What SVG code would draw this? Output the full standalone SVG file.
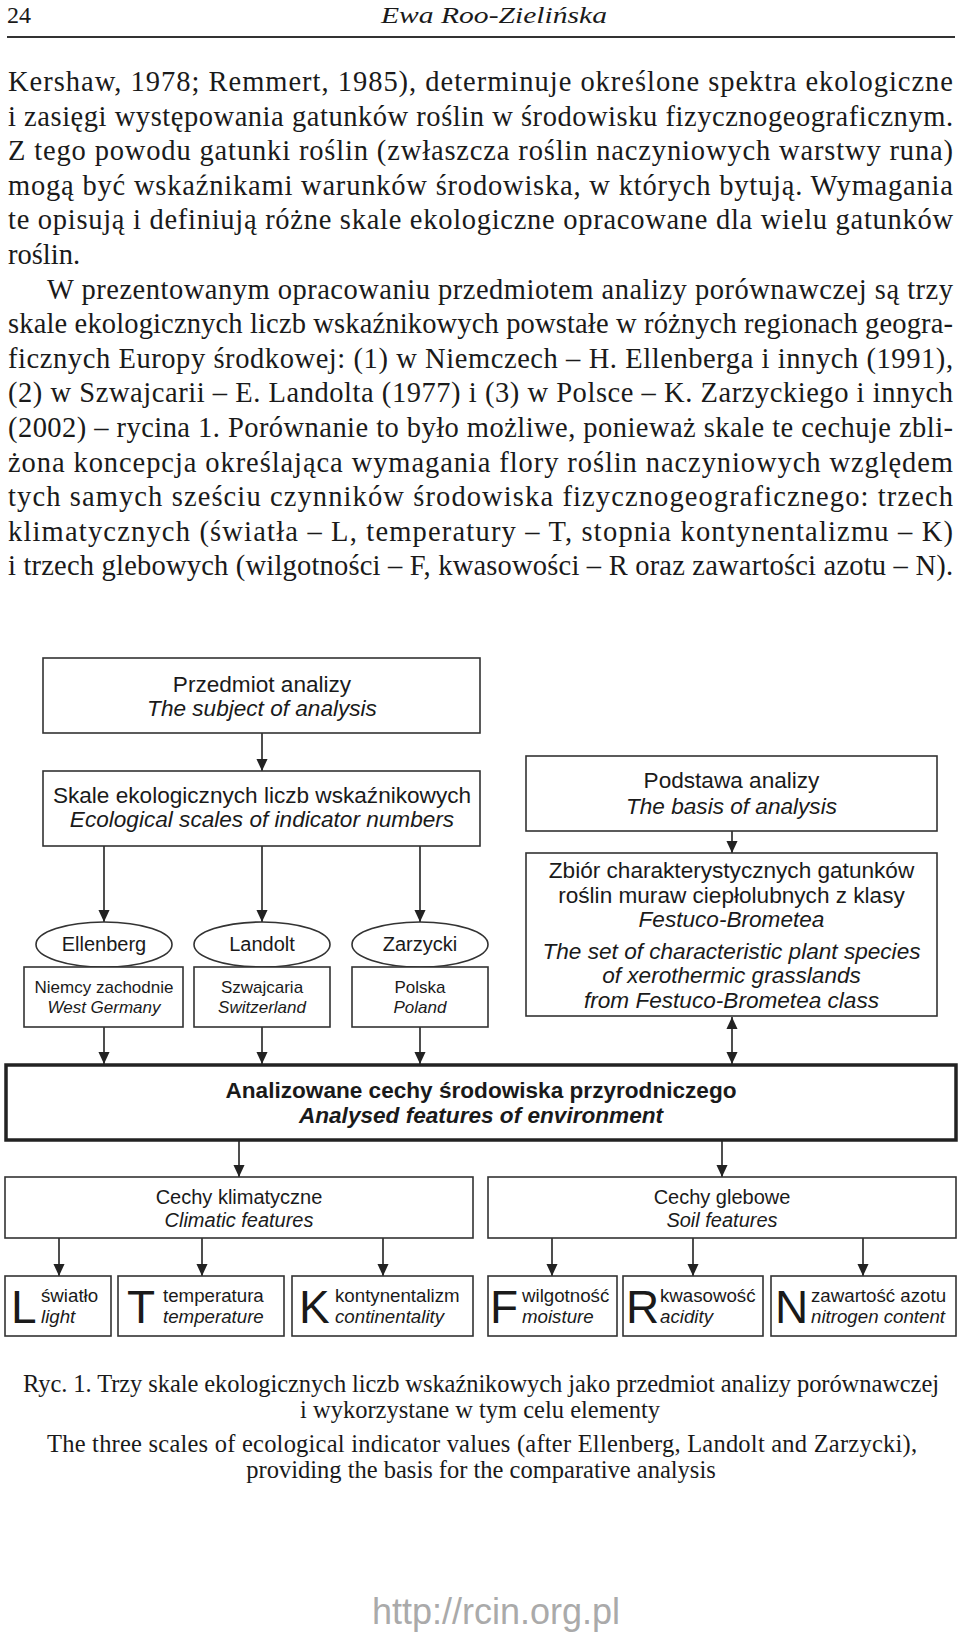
<svg xmlns="http://www.w3.org/2000/svg" width="960" height="1634" viewBox="0 0 960 1634">
<style>
.body{font-family:"Liberation Serif","Times New Roman",serif;font-size:28.5px;fill:#1a1a1a}
.cap{font-family:"Liberation Serif","Times New Roman",serif;font-size:24.5px;fill:#1a1a1a}
.hd{font-family:"Liberation Serif","Times New Roman",serif;font-size:24px;fill:#1a1a1a}
.s22{font-family:"Liberation Sans",Arial,sans-serif;font-size:22.6px;fill:#1a1a1a;text-anchor:middle}
.s20{font-family:"Liberation Sans",Arial,sans-serif;font-size:20px;fill:#1a1a1a;text-anchor:middle}
.s17{font-family:"Liberation Sans",Arial,sans-serif;font-size:17px;fill:#1a1a1a;text-anchor:middle}
.s18{font-family:"Liberation Sans",Arial,sans-serif;font-size:18.7px;fill:#1a1a1a}
.big{font-family:"Liberation Sans",Arial,sans-serif;font-size:46px;fill:#1a1a1a}
.it{font-style:italic}
.b{font-weight:bold}
.box{fill:#fff;stroke:#333;stroke-width:1.6}
.thick{fill:#fff;stroke:#222;stroke-width:3.5}
.con{stroke:#222;stroke-width:1.6;fill:none;marker-end:url(#ah)}
.wm{font-family:"Liberation Sans",Arial,sans-serif;font-size:36px;fill:#aaaaaa;text-anchor:middle}
</style>
<defs>
<marker id="ah" markerUnits="userSpaceOnUse" markerWidth="12" markerHeight="13" refX="13" refY="6" orient="auto-start-reverse" viewBox="0 0 13 12">
<path d="M0,0 L13,6 L0,12 Z" fill="#222"/>
</marker>
</defs>
<rect width="960" height="1634" fill="#fff"/>

<g id="header">
<text class="hd" x="7" y="23">24</text>
<text class="hd it" x="494" y="23" text-anchor="middle" textLength="226" lengthAdjust="spacingAndGlyphs">Ewa Roo-Zielińska</text>
<line x1="7" y1="37" x2="955" y2="37" stroke="#333" stroke-width="2"/>
</g>

<g id="body">
<text class="body" x="8" y="91" textLength="945" lengthAdjust="spacing">Kershaw, 1978; Remmert, 1985), determinuje określone spektra ekologiczne</text>
<text class="body" x="8" y="125.6" textLength="945" lengthAdjust="spacing">i zasięgi występowania gatunków roślin w środowisku fizycznogeograficznym.</text>
<text class="body" x="8" y="160.2" textLength="945" lengthAdjust="spacing">Z tego powodu gatunki roślin (zwłaszcza roślin naczyniowych warstwy runa)</text>
<text class="body" x="8" y="194.8" textLength="945" lengthAdjust="spacing">mogą być wskaźnikami warunków środowiska, w których bytują. Wymagania</text>
<text class="body" x="8" y="229.4" textLength="945" lengthAdjust="spacing">te opisują i definiują różne skale ekologiczne opracowane dla wielu gatunków</text>
<text class="body" x="8" y="264">roślin.</text>
<text class="body" x="47" y="298.6" textLength="906" lengthAdjust="spacing">W prezentowanym opracowaniu przedmiotem analizy porównawczej są trzy</text>
<text class="body" x="8" y="333.2" textLength="945" lengthAdjust="spacing">skale ekologicznych liczb wskaźnikowych powstałe w różnych regionach geogra-</text>
<text class="body" x="8" y="367.8" textLength="945" lengthAdjust="spacing">ficznych Europy środkowej: (1) w Niemczech – H. Ellenberga i innych (1991),</text>
<text class="body" x="8" y="402.4" textLength="945" lengthAdjust="spacing">(2) w Szwajcarii – E. Landolta (1977) i (3) w Polsce – K. Zarzyckiego i innych</text>
<text class="body" x="8" y="437" textLength="945" lengthAdjust="spacing">(2002) – rycina 1. Porównanie to było możliwe, ponieważ skale te cechuje zbli-</text>
<text class="body" x="8" y="471.6" textLength="945" lengthAdjust="spacing">żona koncepcja określająca wymagania flory roślin naczyniowych względem</text>
<text class="body" x="8" y="506.2" textLength="945" lengthAdjust="spacing">tych samych sześciu czynników środowiska fizycznogeograficznego: trzech</text>
<text class="body" x="8" y="540.8" textLength="945" lengthAdjust="spacing">klimatycznych (światła – L, temperatury – T, stopnia kontynentalizmu – K)</text>
<text class="body" x="8" y="575.4" textLength="945" lengthAdjust="spacing">i trzech glebowych (wilgotności – F, kwasowości – R oraz zawartości azotu – N).</text>
</g>

<g id="connectors">
<line class="con" x1="262" y1="733" x2="262" y2="771"/>
<line class="con" x1="104" y1="846" x2="104" y2="922"/>
<line class="con" x1="262" y1="846" x2="262" y2="922"/>
<line class="con" x1="420" y1="846" x2="420" y2="922"/>
<line class="con" x1="104" y1="1027" x2="104" y2="1064"/>
<line class="con" x1="262" y1="1027" x2="262" y2="1064"/>
<line class="con" x1="420" y1="1027" x2="420" y2="1064"/>
<line class="con" x1="732" y1="831" x2="732" y2="853"/>
<line class="con" x1="732" y1="1017" x2="732" y2="1064" style="marker-start:url(#ah)"/>
<line class="con" x1="239" y1="1141" x2="239" y2="1177"/>
<line class="con" x1="722" y1="1141" x2="722" y2="1177"/>
<line class="con" x1="59" y1="1238" x2="59" y2="1276"/>
<line class="con" x1="202" y1="1238" x2="202" y2="1276"/>
<line class="con" x1="383" y1="1238" x2="383" y2="1276"/>
<line class="con" x1="552" y1="1238" x2="552" y2="1276"/>
<line class="con" x1="693" y1="1238" x2="693" y2="1276"/>
<line class="con" x1="863" y1="1238" x2="863" y2="1276"/>
</g>

<g id="subject">
<rect class="box" x="43" y="658" width="437" height="75"/>
<text class="s22" x="262" y="692">Przedmiot analizy</text>
<text class="s22 it" x="262" y="716">The subject of analysis</text>
</g>

<g id="scales">
<rect class="box" x="43" y="771" width="437" height="75"/>
<text class="s22" x="262" y="803">Skale ekologicznych liczb wskaźnikowych</text>
<text class="s22 it" x="262" y="827">Ecological scales of indicator numbers</text>
</g>

<g id="ellenberg">
<ellipse class="box" cx="104" cy="944.5" rx="68" ry="22.5"/>
<text class="s20" x="104" y="951">Ellenberg</text>
<rect class="box" x="24" y="967" width="159" height="60"/>
<text class="s17" x="104" y="993">Niemcy zachodnie</text>
<text class="s17 it" x="104" y="1013">West Germany</text>
</g>

<g id="landolt">
<ellipse class="box" cx="262" cy="944.5" rx="68" ry="22.5"/>
<text class="s20" x="262" y="951">Landolt</text>
<rect class="box" x="194" y="967" width="136" height="60"/>
<text class="s17" x="262" y="993">Szwajcaria</text>
<text class="s17 it" x="262" y="1013">Switzerland</text>
</g>

<g id="zarzycki">
<ellipse class="box" cx="420" cy="944.5" rx="68" ry="22.5"/>
<text class="s20" x="420" y="951">Zarzycki</text>
<rect class="box" x="352" y="967" width="136" height="60"/>
<text class="s17" x="420" y="993">Polska</text>
<text class="s17 it" x="420" y="1013">Poland</text>
</g>

<g id="basis">
<rect class="box" x="526" y="756" width="411" height="75"/>
<text class="s22" x="731.5" y="788">Podstawa analizy</text>
<text class="s22 it" x="731.5" y="814">The basis of analysis</text>
</g>

<g id="set">
<rect class="box" x="526" y="853" width="411" height="163"/>
<text class="s22" x="731.5" y="878">Zbiór charakterystycznych gatunków</text>
<text class="s22" x="731.5" y="903">roślin muraw ciepłolubnych z klasy</text>
<text class="s22 it" x="731.5" y="927">Festuco-Brometea</text>
<text class="s22 it" x="731.5" y="959">The set of characteristic plant species</text>
<text class="s22 it" x="731.5" y="983">of xerothermic grasslands</text>
<text class="s22 it" x="731.5" y="1008">from Festuco-Brometea class</text>
</g>

<g id="analysed">
<rect class="thick" x="6" y="1065" width="950" height="75"/>
<text class="s22 b" x="481" y="1098">Analizowane cechy środowiska przyrodniczego</text>
<text class="s22 b it" x="481" y="1123">Analysed features of environment</text>
</g>

<g id="climatic">
<rect class="box" x="5" y="1177" width="468" height="61"/>
<text class="s20" x="239" y="1204">Cechy klimatyczne</text>
<text class="s20 it" x="239" y="1227">Climatic features</text>
</g>

<g id="soil">
<rect class="box" x="488" y="1177" width="468" height="61"/>
<text class="s20" x="722" y="1204">Cechy glebowe</text>
<text class="s20 it" x="722" y="1227">Soil features</text>
</g>

<g id="L">
<rect class="box" x="5" y="1276" width="106" height="60"/>
<text class="big" x="11" y="1323">L</text>
<text class="s18" x="41" y="1302">światło</text>
<text class="s18 it" x="41" y="1323">light</text>
</g>
<g id="T">
<rect class="box" x="118" y="1276" width="166" height="60"/>
<text class="big" x="127" y="1323">T</text>
<text class="s18" x="163" y="1302">temperatura</text>
<text class="s18 it" x="163" y="1323">temperature</text>
</g>
<g id="K">
<rect class="box" x="292" y="1276" width="181" height="60"/>
<text class="big" x="299" y="1323">K</text>
<text class="s18" x="335" y="1302">kontynentalizm</text>
<text class="s18 it" x="335" y="1323">continentality</text>
</g>
<g id="F">
<rect class="box" x="488" y="1276" width="129" height="60"/>
<text class="big" x="490" y="1323">F</text>
<text class="s18" x="522" y="1302">wilgotność</text>
<text class="s18 it" x="522" y="1323">moisture</text>
</g>
<g id="R">
<rect class="box" x="623" y="1276" width="140" height="60"/>
<text class="big" x="626" y="1323">R</text>
<text class="s18" x="660" y="1302">kwasowość</text>
<text class="s18 it" x="660" y="1323">acidity</text>
</g>
<g id="N">
<rect class="box" x="771" y="1276" width="185" height="60"/>
<text class="big" x="775" y="1323">N</text>
<text class="s18" x="811" y="1302">zawartość azotu</text>
<text class="s18 it" x="811" y="1323">nitrogen content</text>
</g>

<g id="caption">
<text class="cap" x="481" y="1392" text-anchor="middle" textLength="916" lengthAdjust="spacing">Ryc. 1. Trzy skale ekologicznych liczb wskaźnikowych jako przedmiot analizy porównawczej</text>
<text class="cap" x="480" y="1418" text-anchor="middle">i wykorzystane w tym celu elementy</text>
<text class="cap" x="482" y="1452" text-anchor="middle" textLength="870" lengthAdjust="spacing">The three scales of ecological indicator values (after Ellenberg, Landolt and Zarzycki),</text>
<text class="cap" x="481" y="1478" text-anchor="middle">providing the basis for the comparative analysis</text>
</g>

<g id="watermark">
<text class="wm" x="496" y="1624">http://rcin.org.pl</text>
</g>
</svg>
